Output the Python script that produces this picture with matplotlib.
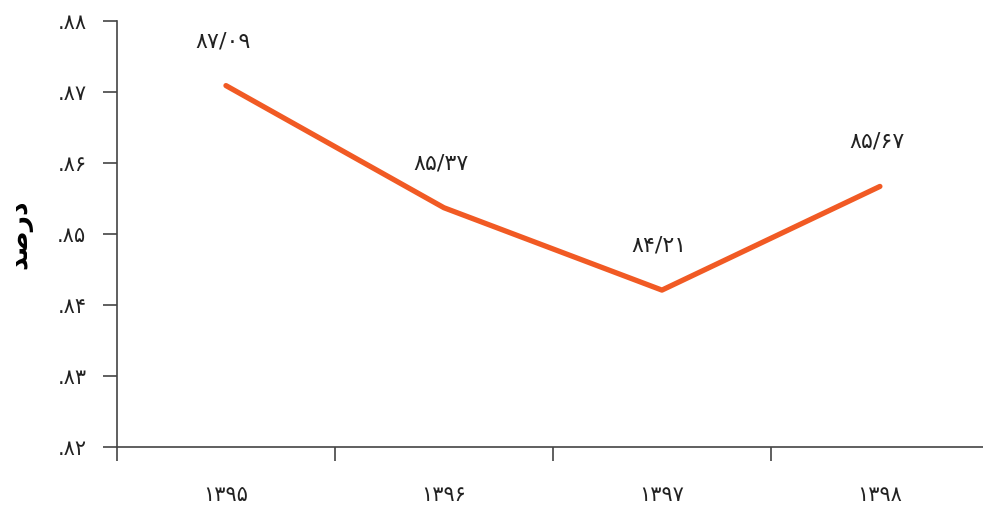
import matplotlib
matplotlib.use("Agg")
from matplotlib import pyplot as plt

# Data (Persian years and percent values)
years = ["۱۳۹۵", "۱۳۹۶", "۱۳۹۷", "۱۳۹۸"]
values = [87.09, 85.37, 84.21, 85.67]
value_labels = ["۸۷/۰۹", "۸۵/۳۷", "۸۴/۲۱", "۸۵/۶۷"]
y_ticks = [82, 83, 84, 85, 86, 87, 88]
y_tick_labels = [".۸۲", ".۸۳", ".۸۴", ".۸۵", ".۸۶", ".۸۷", ".۸۸"]
# "درصد" in presentation forms, visual order (matplotlib does no Arabic shaping)
y_title = "\uFEAA\uFEBB\uFEAD\uFEA9"

plt.rcParams['font.family'] = ['DejaVu Sans']

fig = plt.figure(figsize=(9.83, 5.07), dpi=100)
ax = fig.add_axes([0.119, 0.1183, 0.887, 0.8403])

xs = list(range(len(years)))
ax.plot(xs, values, color='#F15A24', linewidth=3.8, solid_capstyle='round',
        solid_joinstyle='round')

for x, v, lab in zip(xs, values, value_labels):
    ax.annotate(lab, xy=(x, v), xytext=(-2, 32), textcoords='offset points',
                ha='center', va='center', fontsize=16, color='#222222')

ax.set_xlim(-0.5, 3.5)
ax.set_ylim(82, 88)

ax.set_yticks(y_ticks)
ax.set_yticklabels(y_tick_labels, fontsize=15, color='#222222')
ax.set_xticks([x + 0.5 for x in [-1] + xs[:-1]])
ax.set_xticklabels([])
ax.set_xticks(xs, minor=True)
ax.set_xticklabels(years, minor=True, fontsize=15, color='#222222')
ax.tick_params(axis='x', which='minor', length=0, pad=27)
ax.tick_params(axis='x', which='major', length=10, width=1.2, color='#444444')
ax.tick_params(axis='y', length=10, width=1.2, color='#444444', pad=12)

for side in ['top', 'right']:
    ax.spines[side].set_visible(False)
for side in ['left', 'bottom']:
    ax.spines[side].set_color('#444444')
    ax.spines[side].set_linewidth(1.2)

ax.set_ylabel(y_title, fontsize=19, fontweight='bold', rotation=90, labelpad=18)

fig.savefig("out.png", dpi=100)
